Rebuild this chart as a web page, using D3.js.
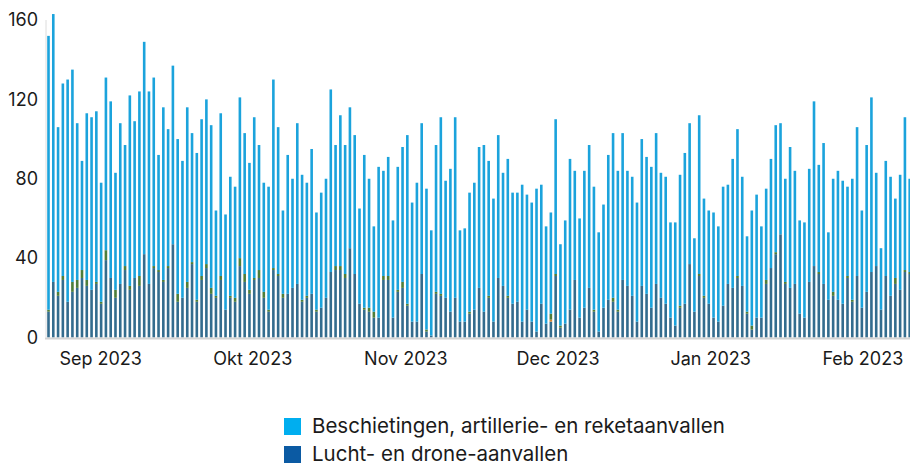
<!DOCTYPE html>
<html>
<head>
<meta charset="utf-8">
<script src="https://cdn.jsdelivr.net/npm/d3@7"></script>
<style>
  html, body { margin: 0; padding: 0; background: #fff; }
  svg { display: block; font-family: Inter, "Noto Sans", sans-serif; }
</style>
</head>
<body>
<svg id="chart" width="910" height="466"></svg>
<script>
// ---- data (one value per day/bar) ----
const seriesNames = ["Lucht- en drone-aanvallen", "Overig (oranje)", "Grondgevechten", "Beschietingen, artillerie- en reketaanvallen"];

const luchtDrone = [13,28,21,29,18,23,25,30,26,24,27,17,39,30,20,27,34,24,30,26,42,27,35,33,28,35,47,18,20,25,37,18,29,35,22,20,29,14,20,18,36,28,22,29,30,20,13,34,31,20,22,25,27,18,20,22,13,15,20,33,34,34,30,45,32,17,14,13,10,10,29,29,10,23,25,16,8,8,32,3,1,22,21,20,13,20,8,8,12,14,25,13,20,8,30,26,20,17,18,8,14,8,3,17,7,8,31,5,7,14,29,10,15,25,13,3,15,19,18,13,29,26,21,8,26,22,15,27,20,17,10,6,15,17,37,13,31,20,17,10,8,16,27,25,30,26,12,4,10,10,27,35,42,52,27,25,27,12,10,28,36,32,27,19,21,19,17,30,18,31,15,23,33,36,14,31,21,27,24,33,32];

const overig = [0,0,0,0,0,0,0,0,0,0,0,0,0,0,0,0,0,0,0,0,0,0,0,0,0,0,0,0,0,0,0,0,0,0,0,0,0,0,0,0,0,0,0,0,0,0,0,0,0,0,0,0,0,0,0,0,0,0,0,0,0,0,0,0,0,0,0,0,0,0,0,0,0,0,0,0,0,0,0,0,0,0,0,0,0,0,0,0,0,0,0,0,0,0,0,0,0,0,0,0,0,0,0,0,0,1,0,0,0,0,0,0,0,0,0,0,0,0,0,0,0,0,0,0,0,0,0,0,0,0,0,0,0,0,0,0,0,0,0,0,0,0,0,0,0,0,0,0,0,0,0,0,0,0,0,0,0,0,0,0,0,0,0,0,0,0,0,0,0,0,0,0,0,0,0,0,0,0,0,0,0];

const grond = [1,0,2,2,0,5,4,4,3,0,1,1,5,0,4,0,2,2,0,5,0,0,1,1,1,1,0,4,0,3,1,1,2,2,3,1,2,0,1,2,4,4,2,1,4,3,1,1,1,2,0,0,0,1,1,0,1,0,0,0,2,2,2,0,0,0,1,2,3,0,2,2,0,1,3,1,0,0,0,1,0,1,1,0,0,0,0,0,1,0,0,0,1,0,0,0,1,0,0,0,0,0,0,0,0,3,1,1,0,0,0,0,0,0,1,0,0,0,2,1,0,0,0,0,0,0,0,0,0,0,0,0,1,0,0,0,1,1,0,0,0,0,0,0,1,0,1,2,0,0,2,0,1,0,1,0,0,0,0,0,0,1,0,0,2,0,0,1,1,0,0,0,0,0,0,0,0,3,0,1,1];

const beschietingen = [138,135,83,97,112,107,79,55,84,87,86,60,87,89,59,81,61,96,79,93,107,97,95,58,87,69,90,78,69,88,65,74,79,83,82,43,82,48,60,56,81,71,64,81,63,55,62,95,74,42,70,55,81,63,57,73,49,58,60,92,61,76,65,71,70,48,77,65,43,76,53,60,49,62,68,85,60,70,76,71,53,74,89,59,72,91,46,47,60,64,71,84,68,62,72,57,69,56,55,69,58,60,72,60,49,51,78,41,52,76,55,50,69,72,62,50,52,73,83,70,74,58,60,60,74,69,71,76,63,64,48,52,66,76,71,37,80,49,47,53,48,60,50,65,74,55,38,58,62,46,46,55,64,56,52,71,57,47,48,57,83,54,71,34,57,65,62,45,61,75,49,74,88,47,31,58,60,40,58,77,47];

// month tick labels and the (fractional) bar index at which each label sits
const tickLabels = ["Sep 2023", "Okt 2023", "Nov 2023", "Dec 2023", "Jan 2023", "Feb 2023"];
const tickIndex = [10.8, 42.6, 74.6, 106.4, 138.3, 170.1];

const yTicks = [0, 40, 80, 120, 160];
const legendItems = ["Beschietingen, artillerie- en reketaanvallen", "Lucht- en drone-aanvallen"];

// ---- layout / style ----
const colors = ["#336c8e", "#d9822b", "#4d7d3a", "#1ba3dc"];
const legendColors = ["#00aeef", "#0b5aa3"];

const svg = d3.select("#chart");
const n = beschietingen.length;
const days = d3.range(n);

const x = d3.scaleLinear().domain([0, n - 1]).range([48.5, 909.7]);
const y = d3.scaleLinear().domain([0, 160]).range([337.5, 20]);
const barW = 2.6;

const rows = days.map(i => ({
  i,
  lucht: luchtDrone[i],
  overig: overig[i],
  grond: grond[i],
  besch: beschietingen[i]
}));
const keys = ["lucht", "overig", "grond", "besch"];
const stacked = d3.stack().keys(keys)(rows);

// y axis line (light)
svg.append("line")
  .attr("x1", 46).attr("x2", 46)
  .attr("y1", y(160)).attr("y2", y(0))
  .attr("stroke", "#dcdcdc").attr("stroke-width", 1);

// bars
svg.append("g").selectAll("g")
  .data(stacked)
  .join("g")
  .attr("fill", (d, k) => colors[k])
  .selectAll("rect")
  .data(d => d.filter(s => s[1] > s[0]))
  .join("rect")
  .attr("x", d => x(d.data.i) - barW / 2)
  .attr("width", barW)
  .attr("y", d => y(d[1]))
  .attr("height", d => y(d[0]) - y(d[1]));

// baseline
svg.append("line")
  .attr("x1", 45).attr("x2", 910)
  .attr("y1", y(0) + 1).attr("y2", y(0) + 1)
  .attr("stroke", "#d3d3d3").attr("stroke-width", 2);

// y axis labels
const yAxis = d3.axisLeft(y).tickValues(yTicks).tickSize(0).tickPadding(0).tickFormat(d3.format("d"));
const gy = svg.append("g").attr("transform", "translate(38,0)").call(yAxis);
gy.select(".domain").remove();
gy.selectAll("text").attr("font-size", 18).attr("fill", "#1a1a1a")
  .attr("font-family", "Inter, 'Noto Sans', sans-serif");

// x axis labels
const xAxis = d3.axisBottom(x).tickValues(tickIndex).tickSize(0).tickPadding(0)
  .tickFormat((d, i) => tickLabels[i]);
const gx = svg.append("g").attr("transform", "translate(0,352)").call(xAxis);
gx.select(".domain").remove();
gx.selectAll("text").attr("font-size", 18).attr("fill", "#1a1a1a")
  .attr("font-family", "Inter, 'Noto Sans', sans-serif");

// legend
const lg = svg.append("g");
legendItems.forEach((name, k) => {
  const yy = 418 + k * 28;
  lg.append("rect").attr("x", 284).attr("y", yy).attr("width", 17).attr("height", 17)
    .attr("fill", legendColors[k]);
  lg.append("text").attr("x", 312).attr("y", yy + 15)
    .attr("font-size", 20.5).attr("fill", "#1a1a1a")
    .text(name);
});
</script>
</body>
</html>
